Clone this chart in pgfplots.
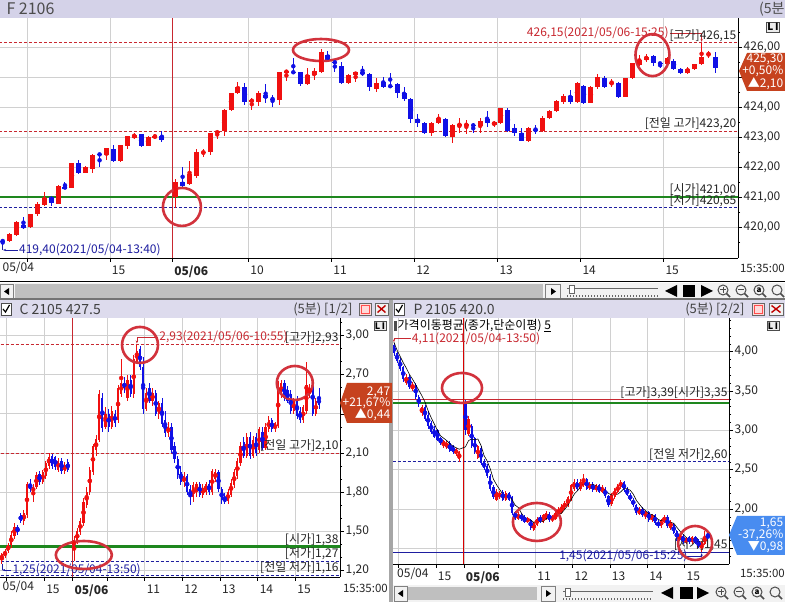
\documentclass[border=0pt]{standalone}
\usepackage{fontspec}
\setmainfont{Noto Sans CJK KR}
\usepackage{pgfplots}
\usepackage{pgfplotstable}
\usetikzlibrary{arrows.meta}
\pgfplotsset{compat=1.18}
\newcommand\fs[1]{\fontsize{#1}{#1}\selectfont}
\definecolor{cup}{RGB}{240,16,16}
\definecolor{cdn}{RGB}{16,16,230}
\definecolor{gridc}{RGB}{208,208,208}
\definecolor{dred}{RGB}{200,40,48}
\definecolor{dblue}{RGB}{30,30,160}
\definecolor{lgreen}{RGB}{30,135,30}
\definecolor{hdr}{RGB}{212,210,232}
\definecolor{tagred}{RGB}{198,66,30}
\definecolor{tagblue}{RGB}{72,140,240}
\definecolor{annot}{RGB}{210,50,60}

\pgfplotstableread{
x o h l c
0 419.55 419.57 419.40 419.52
1 419.54 419.80 419.50 419.77
2 419.73 420.21 419.70 420.16
3 420.07 420.34 419.95 419.98
4 420.00 420.45 419.98 420.42
5 420.42 420.82 420.38 420.78
6 420.72 421.16 420.70 420.96
7 421.01 421.05 420.70 420.81
8 420.78 421.40 420.76 421.37
9 421.34 421.51 421.27 421.29
10 421.31 422.15 421.30 422.12
11 422.12 422.23 421.78 421.81
12 421.81 422.05 421.79 422.01
13 421.92 422.42 421.79 422.40
14 422.43 422.44 422.01 422.41
15 422.40 422.65 422.24 422.62
16 422.60 422.73 422.18 422.20
17 422.20 422.75 422.18 422.73
18 422.71 423.05 422.60 423.03
19 422.98 423.13 422.95 423.07
20 423.09 423.10 422.68 422.70
21 422.71 423.03 422.69 423.01
22 423.00 423.10 422.95 423.02
23 423.03 423.20 422.82 422.90
25 421.00 421.60 420.65 421.51
26 421.51 422.00 421.35 421.38
27 421.42 422.21 421.40 421.77
28 421.71 422.60 421.65 422.49
29 422.48 422.60 422.35 422.50
30 422.49 423.14 422.40 423.12
31 423.12 423.22 422.95 423.20
32 423.20 423.95 423.03 423.90
33 423.90 424.48 423.88 424.46
34 424.46 424.82 424.44 424.66
35 424.66 424.79 424.07 424.16
36 424.20 424.29 423.90 424.22
37 424.18 424.55 424.05 424.46
38 424.40 424.77 424.12 424.29
39 424.28 424.40 424.01 424.26
40 424.23 425.18 424.07 425.16
41 425.16 425.22 424.88 425.20
42 425.17 425.62 425.10 425.15
43 425.16 425.18 424.71 424.77
44 424.77 425.30 424.75 425.07
45 425.07 425.30 424.90 425.21
46 425.18 425.92 425.15 425.82
47 425.75 425.87 425.50 425.54
48 425.50 425.52 425.18 425.48
49 425.38 425.51 424.77 424.79
50 424.79 425.10 424.77 425.07
51 425.07 425.18 424.82 425.16
52 425.16 425.37 425.05 425.09
53 425.10 425.12 424.54 424.66
54 424.59 424.96 424.50 424.81
55 424.84 424.99 424.65 424.68
56 424.70 425.15 424.68 424.69
57 424.77 424.80 424.31 424.48
58 424.48 424.68 424.20 424.27
59 424.27 424.30 423.46 423.59
60 423.59 423.77 423.32 423.48
61 423.48 423.50 423.10 423.12
62 423.12 423.50 423.03 423.48
63 423.48 423.77 423.45 423.64
64 423.59 423.62 423.01 423.02
65 423.01 423.42 422.81 423.40
66 423.40 423.62 423.12 423.42
67 423.40 423.58 423.10 423.42
68 423.40 423.46 423.12 423.38
69 423.38 423.62 423.12 423.54
70 423.59 423.87 423.35 423.48
71 423.40 423.55 423.35 423.49
72 423.48 423.98 423.45 423.96
73 423.90 423.98 423.18 423.20
74 423.29 423.42 423.05 423.12
75 423.12 423.30 422.86 422.88
76 422.88 423.33 422.85 423.29
77 423.24 423.40 423.10 423.22
78 423.20 423.70 423.18 423.62
79 423.65 423.90 423.60 423.87
80 423.87 424.22 423.85 424.20
81 424.18 424.45 424.10 424.38
82 424.38 424.57 424.10 424.16
83 424.18 424.82 424.15 424.79
84 424.70 424.75 424.10 424.15
85 424.15 424.70 424.12 424.66
86 424.66 425.10 424.60 424.99
87 424.98 425.02 424.62 424.68
88 424.78 424.95 424.68 424.80
89 424.79 424.85 424.30 424.35
90 424.35 424.98 424.33 424.96
91 424.96 425.48 424.94 425.46
92 425.40 425.73 425.38 425.57
93 425.57 425.77 425.50 425.68
94 425.70 425.75 425.37 425.46
95 425.46 425.50 425.29 425.45
96 425.44 425.66 425.40 425.62
97 425.55 425.60 425.25 425.27
98 425.27 425.30 425.10 425.14
99 425.14 425.35 425.10 425.26
100 425.26 425.45 425.22 425.42
101 425.44 426.15 425.40 425.66
102 425.76 425.88 425.62 425.78
103 425.66 425.85 425.12 425.30
}\topdata

\pgfplotstableread{
x o h l c
2 1.28 1.33 1.25 1.32
3 1.31 1.36 1.29 1.35
4 1.35 1.41 1.33 1.39
5 1.39 1.50 1.37 1.47
6 1.46 1.56 1.44 1.53
7 1.53 1.55 1.47 1.49
8 1.62 1.64 1.56 1.58
9 1.58 1.66 1.55 1.64
10 1.62 1.88 1.60 1.86
11 1.86 1.90 1.80 1.82
12 1.80 1.86 1.72 1.84
13 1.84 1.95 1.82 1.93
14 1.94 1.96 1.85 1.88
15 1.88 1.97 1.86 1.95
16 1.92 2.04 1.90 2.02
17 2.00 2.10 1.98 2.07
18 2.08 2.09 1.98 2.00
19 2.07 2.08 1.97 1.99
20 1.97 2.06 1.95 2.04
21 2.04 2.06 1.94 1.96
22 1.96 2.03 1.94 2.01
23 2.03 2.05 1.95 1.97
25 1.38 1.46 1.27 1.43
26 1.42 1.52 1.40 1.50
27 1.49 1.60 1.47 1.58
28 1.56 1.75 1.54 1.72
29 1.70 1.84 1.68 1.80
30 1.80 1.99 1.78 1.97
31 1.95 2.17 1.93 2.15
32 2.12 2.24 2.08 2.21
33 2.20 2.58 2.18 2.55
34 2.52 2.56 2.26 2.29
35 2.30 2.45 2.28 2.40
36 2.40 2.44 2.26 2.30
37 2.30 2.46 2.28 2.42
38 2.40 2.43 2.30 2.33
39 2.35 2.62 2.33 2.60
40 2.55 2.82 2.53 2.64
41 2.64 2.68 2.56 2.60
42 2.52 2.70 2.50 2.66
43 2.66 2.70 2.53 2.55
44 2.55 2.85 2.52 2.82
45 2.80 2.93 2.78 2.88
46 2.90 2.92 2.74 2.76
47 2.76 2.84 2.40 2.44
48 2.44 2.60 2.42 2.56
49 2.60 2.64 2.48 2.50
50 2.50 2.60 2.46 2.56
51 2.56 2.58 2.38 2.40
52 2.40 2.50 2.36 2.48
53 2.48 2.52 2.30 2.32
54 2.35 2.42 2.22 2.25
55 2.25 2.34 2.22 2.30
56 2.30 2.33 2.10 2.12
57 2.15 2.18 2.02 2.05
58 2.05 2.08 1.90 1.93
59 1.95 2.00 1.85 1.88
60 1.88 1.95 1.84 1.92
61 1.92 1.94 1.78 1.80
62 1.82 1.85 1.70 1.76
63 1.76 1.88 1.72 1.85
64 1.80 1.88 1.76 1.86
65 1.86 1.88 1.76 1.78
66 1.78 1.86 1.75 1.83
67 1.80 1.88 1.78 1.86
68 1.86 1.89 1.78 1.80
69 1.80 1.98 1.78 1.96
70 1.90 1.98 1.88 1.95
71 1.95 1.97 1.80 1.82
72 1.82 1.84 1.71 1.74
73 1.76 1.79 1.71 1.72
74 1.73 1.82 1.71 1.80
75 1.78 1.90 1.76 1.87
76 1.85 1.98 1.83 1.95
77 1.92 2.06 1.90 2.04
78 2.02 2.18 2.00 2.15
79 2.18 2.22 2.06 2.08
80 2.08 2.25 2.06 2.22
81 2.22 2.26 2.05 2.08
82 2.08 2.23 2.06 2.20
83 2.22 2.25 2.08 2.10
84 2.12 2.30 2.10 2.28
85 2.26 2.30 2.12 2.14
86 2.14 2.33 2.12 2.30
87 2.28 2.38 2.26 2.35
88 2.35 2.37 2.26 2.28
89 2.28 2.34 2.26 2.33
90 2.31 2.65 2.29 2.62
91 2.55 2.66 2.52 2.64
92 2.64 2.66 2.50 2.52
93 2.58 2.61 2.48 2.50
94 2.55 2.58 2.40 2.42
95 2.42 2.52 2.40 2.50
96 2.50 2.54 2.36 2.38
97 2.42 2.45 2.33 2.35
98 2.35 2.47 2.33 2.45
99 2.42 2.80 2.40 2.62
100 2.55 2.63 2.52 2.60
101 2.65 2.68 2.38 2.40
102 2.40 2.52 2.38 2.50
103 2.52 2.60 2.44 2.47
}\calldata

\pgfplotstableread{
x o h l c
2 4.08 4.11 3.95 3.98
3 3.98 4.00 3.86 3.88
4 3.90 3.92 3.76 3.78
5 3.80 3.82 3.62 3.65
6 3.60 3.72 3.58 3.68
7 3.68 3.70 3.52 3.55
8 3.52 3.62 3.50 3.58
9 3.58 3.60 3.40 3.42
10 3.42 3.45 3.30 3.33
11 3.22 3.32 3.18 3.30
12 3.30 3.32 3.12 3.15
13 3.20 3.24 3.02 3.05
14 3.10 3.12 2.95 2.98
15 3.02 3.05 2.90 2.92
16 3.00 3.02 2.86 2.88
17 2.90 2.92 2.82 2.84
18 2.80 2.88 2.78 2.86
19 2.78 2.86 2.76 2.84
20 2.84 2.86 2.72 2.74
21 2.80 2.82 2.70 2.72
22 2.70 2.78 2.68 2.76
23 2.64 2.74 2.60 2.72
25 3.35 3.39 2.94 3.00
26 2.95 3.18 2.93 3.15
27 3.05 3.08 2.78 2.80
28 2.90 2.92 2.70 2.72
29 2.65 2.82 2.63 2.80
30 2.78 2.80 2.56 2.58
31 2.60 2.63 2.50 2.52
32 2.55 2.57 2.40 2.42
33 2.42 2.44 2.23 2.25
34 2.28 2.30 2.13 2.15
35 2.12 2.25 2.10 2.22
36 2.15 2.23 2.13 2.20
37 2.22 2.24 2.10 2.12
38 2.12 2.23 2.10 2.20
39 2.20 2.22 2.10 2.12
40 2.15 2.17 1.93 1.95
41 1.96 1.98 1.86 1.88
42 1.88 1.96 1.86 1.93
43 1.93 1.95 1.85 1.87
44 1.90 1.92 1.82 1.84
45 1.84 1.90 1.82 1.88
46 1.86 1.88 1.74 1.76
47 1.74 1.84 1.72 1.82
48 1.80 1.90 1.78 1.88
49 1.90 1.92 1.82 1.84
50 1.84 1.94 1.82 1.92
51 1.88 1.97 1.86 1.95
52 1.94 1.96 1.84 1.86
53 1.86 1.92 1.84 1.90
54 1.88 1.97 1.86 1.95
55 1.94 2.02 1.92 2.00
56 1.96 2.07 1.94 2.05
57 2.02 2.10 2.00 2.08
58 2.05 2.17 2.03 2.15
59 2.12 2.32 2.10 2.30
60 2.25 2.38 2.23 2.35
61 2.35 2.38 2.23 2.25
62 2.25 2.38 2.23 2.35
63 2.30 2.45 2.28 2.38
64 2.38 2.40 2.24 2.26
65 2.26 2.34 2.24 2.32
66 2.32 2.34 2.22 2.24
67 2.24 2.32 2.22 2.30
68 2.30 2.32 2.20 2.22
69 2.22 2.30 2.20 2.28
70 2.26 2.28 2.14 2.16
71 2.16 2.18 2.03 2.05
72 2.06 2.20 2.04 2.18
73 2.15 2.27 2.13 2.25
74 2.22 2.32 2.20 2.30
75 2.28 2.37 2.26 2.34
76 2.34 2.36 2.22 2.24
77 2.26 2.28 2.16 2.18
78 2.18 2.20 2.10 2.12
79 2.12 2.14 2.03 2.05
80 2.05 2.07 1.93 1.95
81 1.94 2.02 1.92 2.00
82 2.00 2.02 1.90 1.92
83 1.90 1.98 1.88 1.96
84 1.96 1.98 1.84 1.86
85 1.86 1.94 1.84 1.92
86 1.92 1.94 1.80 1.82
87 1.84 1.86 1.76 1.78
88 1.78 1.88 1.76 1.86
89 1.84 1.92 1.82 1.90
90 1.90 1.92 1.76 1.78
91 1.76 1.86 1.74 1.84
92 1.80 1.82 1.68 1.70
93 1.72 1.74 1.60 1.62
94 1.62 1.68 1.60 1.66
95 1.66 1.68 1.56 1.58
96 1.58 1.65 1.56 1.63
97 1.64 1.66 1.56 1.58
98 1.58 1.66 1.56 1.64
99 1.64 1.66 1.55 1.57
100 1.60 1.62 1.50 1.52
101 1.52 1.60 1.45 1.58
102 1.56 1.72 1.54 1.66
103 1.68 1.70 1.60 1.65
}\putdata

% #1 table, #2 wick width, #3 body width, #4 min half body
\newcommand\candles[4]{%
\addplot[cup, only marks, mark=none, restrict expr to domain={\thisrow{c}-\thisrow{o}}{0:1000},
  error bars/.cd, y dir=both, y explicit, error mark=none, error bar style={line width=#2, cup}]
  table[x=x, y expr={(\thisrow{h}+\thisrow{l})/2}, y error expr={(\thisrow{h}-\thisrow{l})/2}] {#1};
\addplot[cup, only marks, mark=none, restrict expr to domain={\thisrow{c}-\thisrow{o}}{0:1000},
  error bars/.cd, y dir=both, y explicit, error mark=none, error bar style={line width=#3, cup}]
  table[x=x, y expr={(\thisrow{o}+\thisrow{c})/2}, y error expr={max(abs(\thisrow{c}-\thisrow{o})/2,#4)}] {#1};
\addplot[cdn, only marks, mark=none, restrict expr to domain={\thisrow{c}-\thisrow{o}}{-1000:-0.00001},
  error bars/.cd, y dir=both, y explicit, error mark=none, error bar style={line width=#2, cdn}]
  table[x=x, y expr={(\thisrow{h}+\thisrow{l})/2}, y error expr={(\thisrow{h}-\thisrow{l})/2}] {#1};
\addplot[cdn, only marks, mark=none, restrict expr to domain={\thisrow{c}-\thisrow{o}}{-1000:-0.00001},
  error bars/.cd, y dir=both, y explicit, error mark=none, error bar style={line width=#3, cdn}]
  table[x=x, y expr={(\thisrow{o}+\thisrow{c})/2}, y error expr={max(abs(\thisrow{c}-\thisrow{o})/2,#4)}] {#1};
}

\pgfplotsset{
  every non boxed x axis/.append style={x axis line style={-}, xtick align=outside},
  every non boxed y axis/.append style={y axis line style={-}, ytick align=outside},
  hts/.style={scale only axis, axis x line=bottom, axis y line=right,
    axis line style={black, line width=0.9pt},
    major tick length=4pt, minor tick length=2pt,
    tick style={black, line width=0.6pt},
    xmajorgrids, ymajorgrids, grid style={gridc, line width=0.7pt},
    tick label style={font=\fs{12}, text=black!85},
    yticklabel style={inner sep=1.5pt},
    xticklabel style={anchor=north west, xshift=-1.5pt},
    extra x tick style={grid=none, major tick length=0pt},
  },
}
\tikzset{
  hl/.style={line width=0.8pt, dash pattern=on 3pt off 2pt},
  lab/.style={font=\fs{12}, text=black!85, inner sep=1pt},
  an/.style={annot, line width=2.6pt},
  tg/.style={anchor=east, font=\fs{12}, text=white, inner sep=0.5pt},
}

\begin{document}
\begin{tikzpicture}[x=1pt,y=1pt]
\fill[white] (0,0) rectangle (785,602);
\path[use as bounding box] (0,0) rectangle (785,602);

% ================= TOP: F 2106 =================
\begin{axis}[hts, at={(0pt,344pt)}, anchor=south west, width=738pt, height=240pt,
  xmin=-0.39, xmax=106.26, ymin=418.967, ymax=426.967,
  ytick={420,421,422,423,424,425,426},
  yticklabels={{420,00},{421,00},{422,00},{423,00},{424,00},{},{426,00}},
  minor ytick={419.5,420.5,421.5,422.5,423.5,424.5,425.5,426.5},
  xtick={3.5,15.5,24.5,35.5,47.5,59.5,71.5,83.5,95.5},
  xticklabels={,15,\textbf{05/06},10,11,12,13,14,15},
  extra x ticks={-0.3}, extra x tick labels={05/04}]
\draw[dred, hl] (axis cs:-2,426.15) -- (axis cs:110,426.15);
\draw[dred, hl] (axis cs:-2,423.20) -- (axis cs:110,423.20);
\draw[lgreen, line width=2.6pt] (axis cs:-2,421.00) -- (axis cs:110,421.00);
\draw[dblue, hl] (axis cs:-2,420.65) -- (axis cs:110,420.65);
\draw[dred, line width=1pt] (axis cs:24.5,418) -- (axis cs:24.5,428);
\candles{\topdata}{1pt}{5pt}{0.012}
\node[lab, anchor=east, text=dred] at (axis cs:96.4,426.467) {426,15(2021/05/06-15:25)};
\draw[dred, line width=0.7pt, -{Stealth[length=3pt]}] (axis cs:96.4,426.467) -- (axis cs:101,426.467) -- (axis cs:101,426.17);
\node[lab, anchor=south east, fill=white, fill opacity=0, text opacity=1] at (axis cs:106.2,426.15) {[고가]426,15};
\node[lab, anchor=south east] at (axis cs:106.2,423.20) {[전일 고가]423,20};
\node[lab, anchor=south east] at (axis cs:106.2,421.00) {[시가]421,00};
\node[lab, anchor=south east] at (axis cs:106.2,420.65) {[저가]420,65};
\node[lab, anchor=west, text=dblue] at (axis cs:2.2,419.233) {419,40(2021/05/04-13:40)};
\draw[dblue, line width=0.7pt] (axis cs:0,419.40) -- (axis cs:0,419.233);
\draw[dblue, line width=0.7pt, -{Stealth[length=3pt]}] (axis cs:2.2,419.233) -- (axis cs:0.05,419.233);
\draw[an] (axis cs:46,425.9) ellipse [x radius=28pt, y radius=11pt];
\draw[an] (axis cs:25.9,420.67) ellipse [x radius=19pt, y radius=19pt];
\draw[an] (axis cs:93.9,425.73) ellipse [x radius=17pt, y radius=21pt];
\end{axis}

% ================= BOTTOM LEFT: C 2105 427.5 =================
\begin{axis}[hts, at={(0pt,25pt)}, anchor=south west, width=340pt, height=259pt,
  xmin=1.4, xmax=109.7, ymin=1.147, ymax=3.136,
  ytick={1.2,1.5,1.8,2.1,2.4,2.7,3.0},
  yticklabels={{1,20},{1,50},{1,80},{2,10},{},{2,70},{3,00}},
  minor ytick={1.3,1.4,1.6,1.7,1.9,2.0,2.2,2.3,2.5,2.6,2.8,2.9,3.1},
  xtick={3.5,15.5,24.5,35.5,47.5,59.5,71.5,83.5,95.5},
  xticklabels={,15,\textbf{05/06},,11,12,13,14,15},
  extra x ticks={1.6}, extra x tick labels={05/04}]
\draw[dred, hl] (axis cs:0,2.93) -- (axis cs:112,2.93);
\draw[dred, hl] (axis cs:0,2.10) -- (axis cs:112,2.10);
\draw[lgreen, line width=2.6pt] (axis cs:0,1.38) -- (axis cs:112,1.38);
\draw[dblue, hl] (axis cs:0,1.27) -- (axis cs:112,1.27);
\draw[dblue, hl] (axis cs:0,1.16) -- (axis cs:112,1.16);
\draw[dred, line width=1pt] (axis cs:24.5,1) -- (axis cs:24.5,3.3);
\candles{\calldata}{0.8pt}{2.2pt}{0.004}
\node[lab, anchor=south east] at (axis cs:109.6,2.93) {[고가]2,93};
\node[lab, anchor=west, text=dred] at (axis cs:51.8,2.99) {2,93(2021/05/06-10:55)};
\draw[dred, line width=0.7pt, -{Stealth[length=3pt]}] (axis cs:51.8,2.99) -- (axis cs:45,2.99) -- (axis cs:45,2.94);
\node[lab, anchor=south east] at (axis cs:109.6,2.10) {[전일 고가]2,10};
\node[lab, anchor=south east] at (axis cs:109.6,1.38) {[시가]1,38};
\node[lab, anchor=south east] at (axis cs:109.6,1.27) {[저가]1,27};
\node[lab, anchor=south east] at (axis cs:109.6,1.16) {[전일 저가]1,16};
\node[lab, anchor=west, text=dblue] at (axis cs:5.0,1.200) {1,25(2021/05/04-13:50)};
\draw[dblue, line width=0.7pt] (axis cs:2,1.25) -- (axis cs:2,1.200);
\draw[dblue, line width=0.7pt, -{Stealth[length=3pt]}] (axis cs:5.0,1.200) -- (axis cs:2.1,1.200);
\draw[an] (axis cs:46,2.929) ellipse [x radius=18pt, y radius=18pt];
\draw[an] (axis cs:95.3,2.637) ellipse [x radius=18pt, y radius=17pt];
\draw[an] (axis cs:28.1,1.316) ellipse [x radius=28pt, y radius=14pt];
\end{axis}

% ================= BOTTOM RIGHT: P 2105 420.0 =================
\begin{axis}[hts, at={(393pt,38pt)}, anchor=south west, width=336pt, height=246pt,
  xmin=1.7, xmax=109.8, ymin=1.302, ymax=4.428,
  ytick={1.5,2.0,2.5,3.0,3.5,4.0},
  yticklabels={{},{2,00},{2,50},{3,00},{3,50},{4,00}},
  minor ytick={1.4,1.6,1.7,1.8,1.9,2.1,2.2,2.3,2.4,2.6,2.7,2.8,2.9,3.1,3.2,3.3,3.4,3.6,3.7,3.8,3.9,4.1,4.2,4.3,4.4},
  xtick={3.5,15.5,24.5,35.5,47.5,59.5,71.5,83.5,95.5},
  xticklabels={,15,\textbf{05/06},,11,12,13,14,15},
  extra x ticks={2.4}, extra x tick labels={05/04}]
\draw[dred, line width=0.8pt] (axis cs:0,3.39) -- (axis cs:112,3.39);
\draw[lgreen, line width=2.6pt] (axis cs:0,3.35) -- (axis cs:112,3.35);
\draw[dblue, hl] (axis cs:0,2.60) -- (axis cs:112,2.60);
\draw[dblue, line width=0.9pt] (axis cs:0,1.45) -- (axis cs:112,1.45);
\draw[red!85!black, line width=1.1pt] (axis cs:24.5,1) -- (axis cs:24.5,4.6);
\candles{\putdata}{0.8pt}{2.2pt}{0.003}
\addplot[black, line width=0.6pt] coordinates {(2,4.12)(3,4.02)(4,3.94)(5,3.86)(6,3.79)(7,3.71)(8,3.65)(9,3.58)(10,3.51)(11,3.44)(12,3.36)(13,3.25)(14,3.16)(15,3.08)(16,3.00)(17,2.93)(18,2.90)(19,2.87)(20,2.83)(21,2.80)(22,2.78)(23,2.76)(25,2.79)(26,2.87)(27,2.89)(28,2.88)(29,2.89)(30,2.81)(31,2.68)(32,2.61)(33,2.51)(34,2.38)(35,2.31)(36,2.25)(37,2.19)(38,2.18)(39,2.17)(40,2.12)(41,2.05)(42,2.02)(43,1.95)(44,1.89)(45,1.88)(46,1.86)(47,1.83)(48,1.84)(49,1.84)(50,1.84)(51,1.88)(52,1.89)(53,1.89)(54,1.92)(55,1.93)(56,1.95)(57,2.00)(58,2.05)(59,2.12)(60,2.19)(61,2.23)(62,2.28)(63,2.33)(64,2.32)(65,2.31)(66,2.31)(67,2.30)(68,2.27)(69,2.27)(70,2.24)(71,2.20)(72,2.18)(73,2.18)(74,2.19)(75,2.22)(76,2.26)(77,2.26)(78,2.24)(79,2.19)(80,2.11)(81,2.06)(82,2.01)(83,1.98)(84,1.94)(85,1.93)(86,1.90)(87,1.87)(88,1.85)(89,1.86)(90,1.83)(91,1.83)(92,1.82)(93,1.77)(94,1.72)(95,1.68)(96,1.64)(97,1.61)(98,1.62)(99,1.60)(100,1.59)(101,1.58)(102,1.59)(103,1.60)};
\node[lab, anchor=south east] at (axis cs:109.7,3.39) {[고가]3,39[시가]3,35};
\node[lab, anchor=south east] at (axis cs:109.7,2.60) {[전일 저가]2,60};
\node[lab, anchor=south east] at (axis cs:109.7,1.45) {[저가]1,45};
\node[lab, anchor=west, text=dred] at (axis cs:7.4,4.165) {4,11(2021/05/04-13:50)};
\draw[dred, line width=0.7pt, -{Stealth[length=3pt]}] (axis cs:7.4,4.165) -- (axis cs:2,4.165) -- (axis cs:2,4.12);
\node[lab, anchor=west, text=dblue] at (axis cs:54.8,1.404) {1,45(2021/05/06-15:25)};
\draw[dblue, line width=0.7pt, -{Stealth[length=3pt]}] (axis cs:95.4,1.404) -- (axis cs:101,1.404) -- (axis cs:101,1.44);
\draw[an] (axis cs:23.9,3.539) ellipse [x radius=20pt, y radius=15pt];
\draw[an] (axis cs:48.0,1.836) ellipse [x radius=24pt, y radius=19pt];
\draw[an] (axis cs:98.9,1.569) ellipse [x radius=17pt, y radius=17pt];
\end{axis}

% ================= chrome: top =================
\fill[hdr] (0,584) rectangle (785,602);
\node[anchor=west, font=\fs{16}, text=black!70] at (3,593) {F 2106};
\node[anchor=east, font=\fs{14}, text=black!70] at (788,593) {(5분};
\node[draw=black!70, fill=black!8, inner sep=1pt, font=\fs{10}\bfseries] at (773,575) {L\,I};
\node[anchor=east, font=\fs{11.5}, text=black!85, inner sep=0pt] at (785,334) {15:35:00};
\draw[black, line width=1pt] (0,320) -- (785,320);
% price tag top
\fill[tagred] (739,531) -- (747,549) -- (785,549) -- (785,511) -- (747,511) -- cycle;
\node[tg] at (784,543) {425,30};
\node[tg] at (784,530.5) {+0,50\%};
\node[tg] at (784,518) {▲2,10};
% top scrollbar
\fill[black!5] (0,303) rectangle (785,319);
\draw[black!50] (0.5,303.5) rectangle (13,318);
\fill (4,310.5) -- (9,314) -- (9,307) -- cycle;
\fill[black!25] (15,304) rectangle (543,318);
\draw[black!50] (545,303.5) rectangle (560,318);
\fill (556,310.5) -- (551,314) -- (551,307) -- cycle;
\draw[black!60] (567,314) -- (658,314);
\draw[black!60, fill=white] (569,309) rectangle (574,317);
\foreach \i in {0,...,30} {\draw[black!60] (567+3*\i,305) -- (567+3*\i,307);}
\fill (665,311) -- (677,317) -- (677,305) -- cycle;
\fill (683,305) rectangle (695,317);
\fill (713,311) -- (701,317) -- (701,305) -- cycle;
\foreach \cx in {723,741,759,777} {\draw[black!70, line width=1pt] (\cx,312) circle (5pt); \draw[black!70, line width=1.6pt] (\cx+3.5,308.5) -- (\cx+7,305);}
\draw[black!70, line width=1pt] (720,312) -- (726,312) (723,309) -- (723,315);
\draw[black!70, line width=1pt] (738,312) -- (744,312);
\node[font=\fs{8}\bfseries, inner sep=0pt] at (759,312) {a};

% ================= chrome: bottom =================
\fill[black!55] (0,302) rectangle (785,304);
\fill[hdr!80!white] (0,284) rectangle (389,302);
\fill[hdr!80!white] (393,284) rectangle (785,302);
\fill[black!35] (389,0) rectangle (393,302);
% left header
\draw[black!70, fill=white] (1,287) rectangle (11,299);
\draw[black, line width=1.2pt] (3,293) -- (5.5,290) -- (9.5,297);
\node[anchor=west, font=\fs{14}, text=black!75] at (16,293) {C 2105 427.5};
\node[anchor=east, font=\fs{13}, text=black!75] at (356,293) {(5분) [1/2]};
\draw[black!60, fill=red!15] (359,287) rectangle (371,299);
\draw[red!70, line width=0.8pt] (361,289) rectangle (369,297);
\draw[black!60, fill=black!5] (375,287) rectangle (388,299);
\draw[red!75!black, line width=1.4pt] (377.5,289.5) -- (385.5,296.5) (377.5,296.5) -- (385.5,289.5);
% right header
\draw[black!70, fill=white] (394,287) rectangle (404,299);
\draw[black, line width=1.2pt] (396,293) -- (398.5,290) -- (402.5,297);
\node[anchor=west, font=\fs{14}, text=black!75] at (410,293) {P 2105 420.0};
\node[anchor=east, font=\fs{13}, text=black!75] at (748,293) {(5분) [2/2]};
\draw[black!60, fill=red!15] (752,287) rectangle (764,299);
\draw[red!70, line width=0.8pt] (754,289) rectangle (762,297);
\draw[black!60, fill=black!5] (769,287) rectangle (783,299);
\draw[red!75!black, line width=1.4pt] (771.5,289.5) -- (780.5,296.5) (771.5,296.5) -- (780.5,289.5);
% LI boxes
\node[draw=black!70, fill=black!8, inner sep=1pt, font=\fs{9}\bfseries] at (380,276) {L\,I};
\node[draw=black!70, fill=black!8, inner sep=1pt, font=\fs{9}\bfseries] at (773,276) {L\,I};
% legend right
\fill[black!70] (394,271) rectangle (397,281);
\node[anchor=west, font=\fs{12}, text=black, inner sep=0.5pt] at (397,276.5) {가격이동평균(종가,단순이평) \underline{5}};
% x end labels
\node[anchor=east, font=\fs{11.5}, text=black!85, inner sep=0pt] at (388,14) {15:35:00};
\node[anchor=east, font=\fs{11.5}, text=black!85, inner sep=0pt] at (785,29) {15:35:00};
% price tags bottom
\fill[tagred] (340,199) -- (347,219) -- (392,219) -- (392,179) -- (347,179) -- cycle;
\node[tg] at (391,210) {2,47};
\node[tg] at (391,199) {+21,67\%};
\node[tg] at (391,187) {▲0,44};
\fill[tagblue] (729,67) -- (737,86) -- (785,86) -- (785,47) -- (737,47) -- cycle;
\node[tg] at (784,79) {1,65};
\node[tg] at (784,67) {-37,26\%};
\node[tg] at (784,55) {▼0,98};
% bottom-right scrollbar
\fill[black!5] (393,0) rectangle (785,17);
\draw[black!50] (394,1) rectangle (407,16);
\fill (398,8.5) -- (403,12) -- (403,5) -- cycle;
\fill[black!25] (408,2) rectangle (537,15);
\draw[black!50] (541,1) rectangle (555,16);
\fill (551,8.5) -- (546,12) -- (546,5) -- cycle;
\draw[black!60] (563,11) -- (653,11);
\draw[black!60, fill=white] (565,6) rectangle (570,14);
\foreach \i in {0,...,29} {\draw[black!60] (563+3*\i,2) -- (563+3*\i,4);}
\fill (661,9) -- (673,15) -- (673,3) -- cycle;
\fill (680,3) rectangle (693,15);
\fill (709,9) -- (697,15) -- (697,3) -- cycle;
\foreach \cx in {721,739,757,775} {\draw[black!70, line width=1pt] (\cx,10) circle (5pt); \draw[black!70, line width=1.6pt] (\cx+3.5,6.5) -- (\cx+7,3);}
\draw[black!70, line width=1pt] (718,10) -- (724,10) (721,7) -- (721,13);
\draw[black!70, line width=1pt] (736,10) -- (742,10);
\node[font=\fs{8}\bfseries, inner sep=0pt] at (757,10) {a};
\end{tikzpicture}
\end{document}
